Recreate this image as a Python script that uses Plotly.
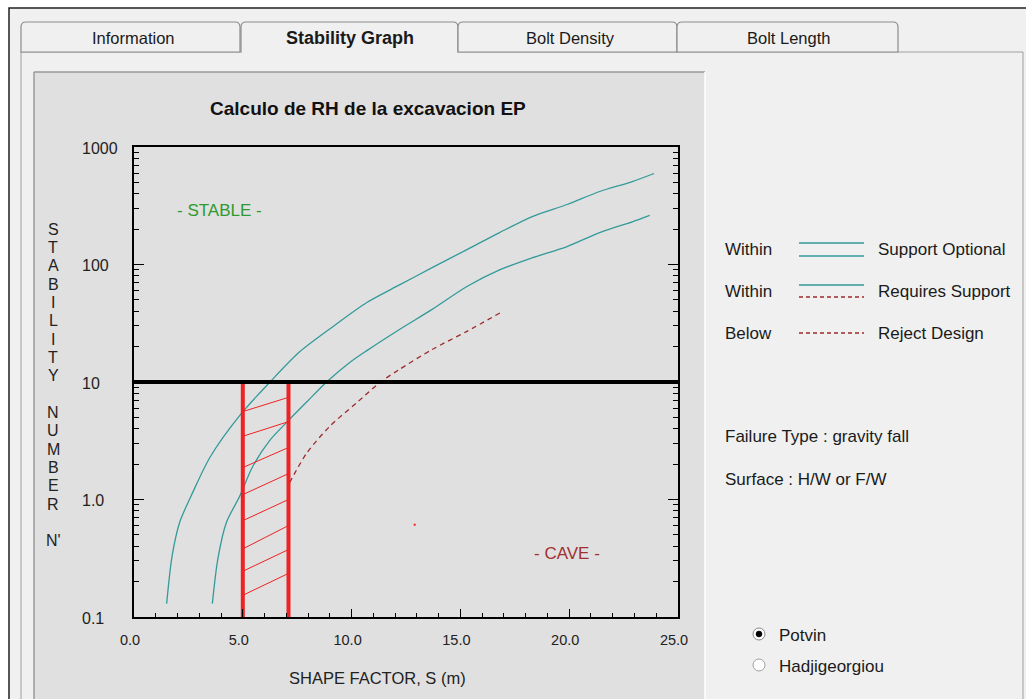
import math
import plotly.graph_objects as go

# ---------------- data ----------------
upper_x = [1.5, 1.75, 2.1, 2.7, 3.5, 4.9, 6.25, 7.6, 9.15, 10.7, 12.2, 13.7, 15.3, 16.8, 18.3, 19.9, 21.4, 22.9, 23.9]
upper_y = [0.13, 0.33, 0.64, 1.15, 2.3, 5.3, 10.0, 18.0, 29.7, 47.5, 67, 94, 134, 187, 256, 324, 418, 508, 595]

lower_x = [3.6, 3.85, 4.25, 4.85, 5.45, 6.25, 7.05, 7.95, 8.85, 9.9, 10.7, 12.2, 13.7, 15.3, 16.8, 18.3, 19.9, 21.4, 22.9, 23.7]
lower_y = [0.13, 0.31, 0.64, 1.06, 1.9, 3.2, 4.6, 6.8, 10.0, 14.6, 18.5, 28, 41.5, 65, 90, 114, 142, 187, 231, 262]

reject_x = [7.15, 7.95, 9.0, 10.25, 11.3, 12.2, 13.7, 15.3, 16.85]
reject_y = [1.39, 2.5, 4.2, 6.7, 9.9, 12.8, 18.9, 27, 39]

design_n = 10.0
sill_x = [5.0, 7.1]
hatch_left_y = [5.6, 3.45, 1.87, 1.10, 0.66, 0.38, 0.245, 0.153]
hatch_right_y = [7.4, 4.6, 2.77, 1.66, 1.0, 0.60, 0.375, 0.235]
point_x = [12.9]
point_y = [0.61]

x_tick_vals = [0, 5, 10, 15, 20, 25]
x_tick_text = ["0.0", "5.0", "10.0", "15.0", "20.0", "25.0"]
y_tick_vals = [0.1, 1, 10, 100, 1000]
y_tick_text = ["0.1", "1.0", "10", "100", "1000"]

tabs = ["Information", "Stability Graph", "Bolt Density", "Bolt Length"]
legend_rows = [("Within", "Support Optional"), ("Within", "Requires Support"), ("Below", "Reject Design")]

# ---------------- styling ----------------
W, H = 1026, 699
FONT = "Liberation Sans"
TEAL = "#339a9a"
DRED = "#9e2a2a"
RED = "#ee2222"
PANEL = "#e0e0e0"
BG = "#f0f0f0"

def px(x):
    return x / W

def py(y):
    return 1 - y / H

X0, X1, YT, YB = 134, 678, 147, 617

fig = go.Figure()

fig.add_trace(go.Scatter(x=upper_x, y=upper_y, mode="lines", line=dict(color=TEAL, width=1.3, shape="spline", smoothing=0.8), hoverinfo="skip"))
fig.add_trace(go.Scatter(x=lower_x, y=lower_y, mode="lines", line=dict(color=TEAL, width=1.3, shape="spline", smoothing=0.8), hoverinfo="skip"))
fig.add_trace(go.Scatter(x=reject_x, y=reject_y, mode="lines", line=dict(color=DRED, width=1.3, dash="5px,4px", shape="spline", smoothing=0.8), hoverinfo="skip"))

hx, hy = [], []
for yl, yr in zip(hatch_left_y, hatch_right_y):
    hx += [sill_x[0], sill_x[1], None]
    hy += [yl, yr, None]
fig.add_trace(go.Scatter(x=hx, y=hy, mode="lines", line=dict(color=RED, width=1), hoverinfo="skip"))

for sx in sill_x:
    fig.add_trace(go.Scatter(x=[sx, sx], y=[0.1, design_n], mode="lines", line=dict(color=RED, width=4), hoverinfo="skip"))

fig.add_trace(go.Scatter(x=[0, 25], y=[design_n, design_n], mode="lines", line=dict(color="black", width=4), hoverinfo="skip"))

fig.add_trace(go.Scatter(x=point_x, y=point_y, mode="markers", marker=dict(color=RED, size=2, symbol="square"), hoverinfo="skip"))

shapes = []
def line(x0, y0, x1, y1, color, width=1, dash=None, layer="above"):
    d = dict(color=color, width=width)
    if dash:
        d["dash"] = dash
    shapes.append(dict(type="line", xref="paper", yref="paper", x0=px(x0), x1=px(x1), y0=py(y0), y1=py(y1), line=d, layer=layer))

# outer window
shapes.append(dict(type="rect", xref="paper", yref="paper", x0=px(9), x1=px(1030), y0=py(705), y1=py(8),
                   fillcolor=BG, line=dict(color="#202020", width=1.5), layer="below"))
line(21, 52, 21, 705, "#a0a0a0", layer="below")
line(1023, 52, 1023, 705, "#a0a0a0", layer="below")
line(21, 52, 1023, 52, "#a0a0a0", layer="below")

tab_edges = [(21, 240), (241, 458), (458, 677), (677, 898)]
for i, (a, b) in enumerate(tab_edges):
    path = (f"M {px(a)},{py(52)} L {px(a)},{py(27)} Q {px(a)},{py(22)} {px(a+5)},{py(22)} "
            f"L {px(b-5)},{py(22)} Q {px(b)},{py(22)} {px(b)},{py(27)} L {px(b)},{py(52)}")
    if i != 1:
        path += " Z"
    shapes.append(dict(type="path", xref="paper", yref="paper", path=path, fillcolor=BG,
                       line=dict(color="#8c8c8c", width=1.2), layer="below"))
line(242, 52, 457, 52, BG, width=2, layer="below")

# chart panel
shapes.append(dict(type="rect", xref="paper", yref="paper", x0=px(34), x1=px(705), y0=py(705), y1=py(72),
                   fillcolor=PANEL, line=dict(width=0), layer="below"))
line(34, 72, 705, 72, "#9a9a9a", 1.5, layer="below")
line(34, 72, 34, 705, "#9a9a9a", 1.5, layer="below")
line(705, 72, 705, 705, "#ffffff", 1.5, layer="below")

# legend samples
leg_y = [249, 291, 333]
line(799, 243, 864, 243, TEAL, 1.3)
line(799, 256, 864, 256, TEAL, 1.3)
line(799, 285, 864, 285, TEAL, 1.3)
line(799, 297, 864, 297, DRED, 1.3, dash="4px,3px")
line(799, 333, 864, 333, DRED, 1.3, dash="4px,3px")

# radio buttons
shapes.append(dict(type="circle", xref="paper", yref="paper", x0=px(753), x1=px(765), y0=py(640), y1=py(628),
                   fillcolor="white", line=dict(color="#8a8a8a", width=1)))
shapes.append(dict(type="circle", xref="paper", yref="paper", x0=px(753), x1=px(765), y0=py(671), y1=py(659),
                   fillcolor="white", line=dict(color="#a0a0a0", width=1)))
shapes.append(dict(type="circle", xref="paper", yref="paper", x0=px(756), x1=px(762), y0=py(637), y1=py(631),
                   fillcolor="black", line=dict(color="black", width=0.5)))

ann = []
def text(x, y, s, size=17, color="#1a1a1a", anchor="left", bold=False):
    ann.append(dict(x=px(x), y=py(y), xref="paper", yref="paper", text=(f"<b>{s}</b>" if bold else s),
                    showarrow=False, xanchor=anchor, yanchor="middle",
                    font=dict(family=FONT, size=size, color=color)))

tab_centers = [133, 350, 570, 788]
for i, (t, cx) in enumerate(zip(tabs, tab_centers)):
    text(cx, 38, t, size=(18 if i == 1 else 16.5), anchor="center", bold=(i == 1))

text(368, 108, "Calculo de RH de la excavacion EP", size=19, anchor="center", bold=True, color="#111111")

for v, t in zip(y_tick_vals, y_tick_text):
    ypix = YB - (math.log10(v) + 1) / 4 * (YB - YT)
    text(80, ypix + 1, t, size=16, color="#222222")

letters = list("STABILITY") + [""] + list("NUMBER") + [""] + ["N'"]
for k, ch in enumerate(letters):
    if ch:
        text(53, 229 + k * 18.35, ch, size=16, anchor="center", color="#222222")

text(219, 210, "- STABLE -", size=17, anchor="center", color="#2f9a2f")
text(567, 553, "- CAVE -", size=17, anchor="center", color="#a03030")
text(377, 678, "SHAPE FACTOR, S (m)", size=16.5, anchor="center", color="#222222")

for (a, b), yy in zip(legend_rows, leg_y):
    text(723, yy, a, size=17)
    text(876, yy, b, size=17)

text(723, 436, "Failure Type : gravity fall", size=17)
text(723, 479, "Surface : H/W or F/W", size=17)
text(777, 635, "Potvin", size=17)
text(777, 666, "Hadjigeorgiou", size=17)

fig.update_layout(
    width=W, height=H, autosize=False, margin=dict(l=0, r=0, t=0, b=0, pad=0),
    paper_bgcolor="white", plot_bgcolor=PANEL, showlegend=False,
    shapes=shapes, annotations=ann,
    xaxis=dict(domain=[px(X0), px(X1)], range=[0, 25], showgrid=False, zeroline=False, automargin=False,
               showline=True, linecolor="black", linewidth=1.5, mirror=True,
               ticks="inside", ticklen=8, tickcolor="black", tickwidth=1,
               tickvals=x_tick_vals, ticktext=x_tick_text, ticklabelshift=-4, ticklabelstandoff=9,
               tickfont=dict(family=FONT, size=14.5, color="#222222"),
               minor=dict(ticks="inside", ticklen=4, dtick=1, tickcolor="black", showgrid=False),
               fixedrange=True),
    yaxis=dict(domain=[py(YB), py(YT)], type="log", range=[-1, 3], showgrid=False, zeroline=False, automargin=False,
               showline=True, linecolor="black", linewidth=1.5, mirror="ticks",
               ticks="inside", ticklen=10, tickcolor="black", tickwidth=1,
               tickvals=y_tick_vals, showticklabels=False,
               minor=dict(ticks="inside", ticklen=5, tickcolor="black", showgrid=False,
                          tickvals=[m * 10 ** e for e in range(-1, 3) for m in range(2, 10)]),
               fixedrange=True),
)

fig.write_html("out.html", config={"responsive": False, "displayModeBar": False})
